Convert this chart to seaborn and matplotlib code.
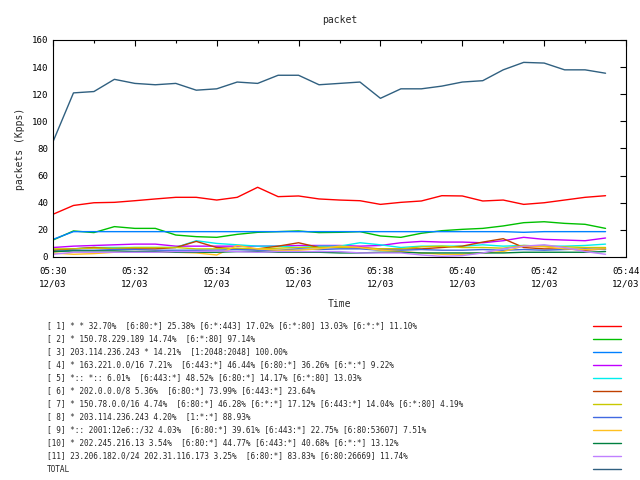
import matplotlib
matplotlib.use("Agg")
import matplotlib.pyplot as plt
import matplotlib.dates as mdates
from matplotlib.lines import Line2D
import numpy as np
import pandas as pd
import seaborn as sns

# samples every 30 s from 05:30 to 05:43:30
times = pd.date_range("2012-12-03 05:30:00", periods=28, freq="30s")

s1 = [31.5, 38, 40, 40.3, 41.5, 42.8, 44, 44, 42, 44, 51.4, 44.5, 45, 42.8,
      42, 41.5, 38.8, 40.3, 41.3, 45.2, 45, 41.3, 42, 38.8, 40, 42, 44, 45.2]
s2 = [12.5, 19.2, 18, 22.4, 21.1, 21.1, 16.2, 15, 14.5, 16.7, 18.2, 18.7, 19.2, 18,
      18.2, 18.7, 15.5, 14.5, 17.5, 19.4, 20.4, 21.1, 22.9, 25.3, 26, 24.8, 24.1, 21.1]
s3 = [13, 18.7, 18.7, 18.7, 18.7, 18.7, 18.7, 18.7, 18.7, 18.7, 18.7, 18.7, 18.7, 18.7,
      18.7, 18.7, 18.7, 18.7, 18.7, 18.7, 18.7, 18.7, 18.7, 18.2, 18.7, 18.7, 18.7, 18.7]
s4 = [7, 8, 8.5, 9, 9.5, 9.5, 8, 8, 8, 8, 8, 8, 8.5, 8.5,
      8.5, 8, 8.5, 10.5, 11.5, 11, 11, 10.5, 12, 14.5, 13, 12.5, 12, 14]
s5 = [5, 6, 7, 7, 7, 7, 7, 12, 10, 9, 8, 8, 7, 8,
      8, 10.5, 9, 7, 8, 8, 8, 9, 8, 8.5, 8, 8, 8.5, 9.5]
s6 = [5, 6, 7, 6, 6, 6, 7, 11.5, 7, 6, 6, 8, 10.5, 7,
      7, 7, 6, 6, 6, 7, 8, 11, 13.5, 7, 6, 6, 5, 6]
s7 = [6, 6, 6.5, 6.5, 7, 7, 7, 6, 6, 6.5, 6, 6.5, 7, 7,
      7, 6.5, 6, 6, 7.5, 8, 7, 7, 6.5, 8.5, 8, 7.5, 7, 7]
s8 = [4, 5, 5, 5.5, 5.5, 5, 5, 5, 5, 5.5, 5, 5, 6, 5.5,
      6, 6, 5, 5, 5.5, 5, 5, 5.5, 5, 5.5, 5, 5.5, 6, 5.5]
s9 = [3, 2, 2.5, 3.5, 4, 4, 3.5, 3, 1.5, 8.5, 6, 5, 5, 6,
      8, 7, 5, 4, 3, 2, 2, 3, 4, 8, 7.5, 6, 5.5, 6]
s10 = [4, 4.5, 4.5, 4.5, 4, 4, 3.5, 3.5, 3.5, 4, 4, 3.5, 3.5, 3.5,
       3, 3, 3.5, 3.5, 3, 3, 3, 3, 3, 3.5, 3.5, 3.5, 3.5, 4]
s11 = [2, 3.5, 3.5, 3.5, 3.5, 3.5, 4, 4, 4.5, 4, 3.5, 4, 4, 4,
       4, 3, 3, 3, 1.5, 0.5, 1, 3, 6, 8, 9, 7, 4, 2]
total = [85, 121, 122, 131, 128, 127, 128, 123, 124, 129, 128, 134, 134, 127,
         128, 129, 117, 124, 124, 126, 129, 130, 138, 143.5, 143, 138, 138, 135.5]

labels = [
    "[ 1] * * 32.70%  [6:80:*] 25.38% [6:*:443] 17.02% [6:*:80] 13.03% [6:*:*] 11.10%",
    "[ 2] * 150.78.229.189 14.74%  [6:*:80] 97.14%",
    "[ 3] 203.114.236.243 * 14.21%  [1:2048:2048] 100.00%",
    "[ 4] * 163.221.0.0/16 7.21%  [6:443:*] 46.44% [6:80:*] 36.26% [6:*:*] 9.22%",
    "[ 5] *:: *:: 6.01%  [6:443:*] 48.52% [6:80:*] 14.17% [6:*:80] 13.03%",
    "[ 6] * 202.0.0.0/8 5.36%  [6:80:*] 73.99% [6:443:*] 23.64%",
    "[ 7] * 150.78.0.0/16 4.74%  [6:80:*] 46.28% [6:*:*] 17.12% [6:443:*] 14.04% [6:*:80] 4.19%",
    "[ 8] * 203.114.236.243 4.20%  [1:*:*] 88.93%",
    "[ 9] *:: 2001:12e6::/32 4.03%  [6:80:*] 39.61% [6:443:*] 22.75% [6:80:53607] 7.51%",
    "[10] * 202.245.216.13 3.54%  [6:80:*] 44.77% [6:443:*] 40.68% [6:*:*] 13.12%",
    "[11] 23.206.182.0/24 202.31.116.173 3.25%  [6:80:*] 83.83% [6:80:26669] 11.74%",
    "TOTAL",
]
series = [s1, s2, s3, s4, s5, s6, s7, s8, s9, s10, s11, total]
colors = ["#ff0000", "#00c000", "#0080ff", "#c000ff", "#00eeee", "#c04000",
          "#c8c800", "#4169e1", "#ffc020", "#008040", "#c080ff", "#306080"]

sns.set_style("white")
plt.rcParams["font.family"] = ["DejaVu Sans Mono"]
plt.rcParams["font.size"] = 6

fig = plt.figure(figsize=(6.4, 4.8), dpi=100)
ax = fig.add_axes([53 / 640, 1 - 257 / 480, 573 / 640, 217 / 480])

for name, vals, c in zip(labels, series, colors):
    df = pd.DataFrame({"time": times, "value": vals})
    sns.lineplot(data=df, x="time", y="value", color=c, lw=1.0, ax=ax)

ax.set_xlim(pd.Timestamp("2012-12-03 05:30"), pd.Timestamp("2012-12-03 05:44"))
ax.set_ylim(0, 160)
ax.set_yticks(np.arange(0, 161, 20))
ax.xaxis.set_major_locator(mdates.MinuteLocator(byminute=range(0, 60, 2)))
ax.xaxis.set_minor_locator(mdates.MinuteLocator())
ax.xaxis.set_major_formatter(mdates.DateFormatter("%H:%M\n%m/%d"))
ax.tick_params(which="both", direction="in", top=True, right=True, colors="black",
               labelsize=6.6)
ax.tick_params(which="major", length=4, width=0.8)
ax.tick_params(which="minor", length=2, width=0.8)
ax.tick_params(axis="x", pad=7)
for lbl in ax.get_xticklabels():
    lbl.set_linespacing(1.5)
for sp in ax.spines.values():
    sp.set_color("black")
    sp.set_linewidth(0.8)
ax.set_title("packet", fontsize=7, pad=12)
ax.set_xlabel("Time", fontsize=7, labelpad=8)
ax.set_ylabel("packets (Kpps)", fontsize=7, labelpad=5)

# legend block below the plot: text on the left, line sample on the right
for i, (name, c) in enumerate(zip(labels, colors)):
    y = 1 - (326 + 13 * i) / 480
    fig.text(47 / 640, y, name, fontsize=5.6, va="center", ha="left")
    fig.add_artist(Line2D([593 / 640, 621 / 640], [y, y], color=c, lw=1.0,
                          transform=fig.transFigure))

fig.savefig("out.png", dpi=100)
